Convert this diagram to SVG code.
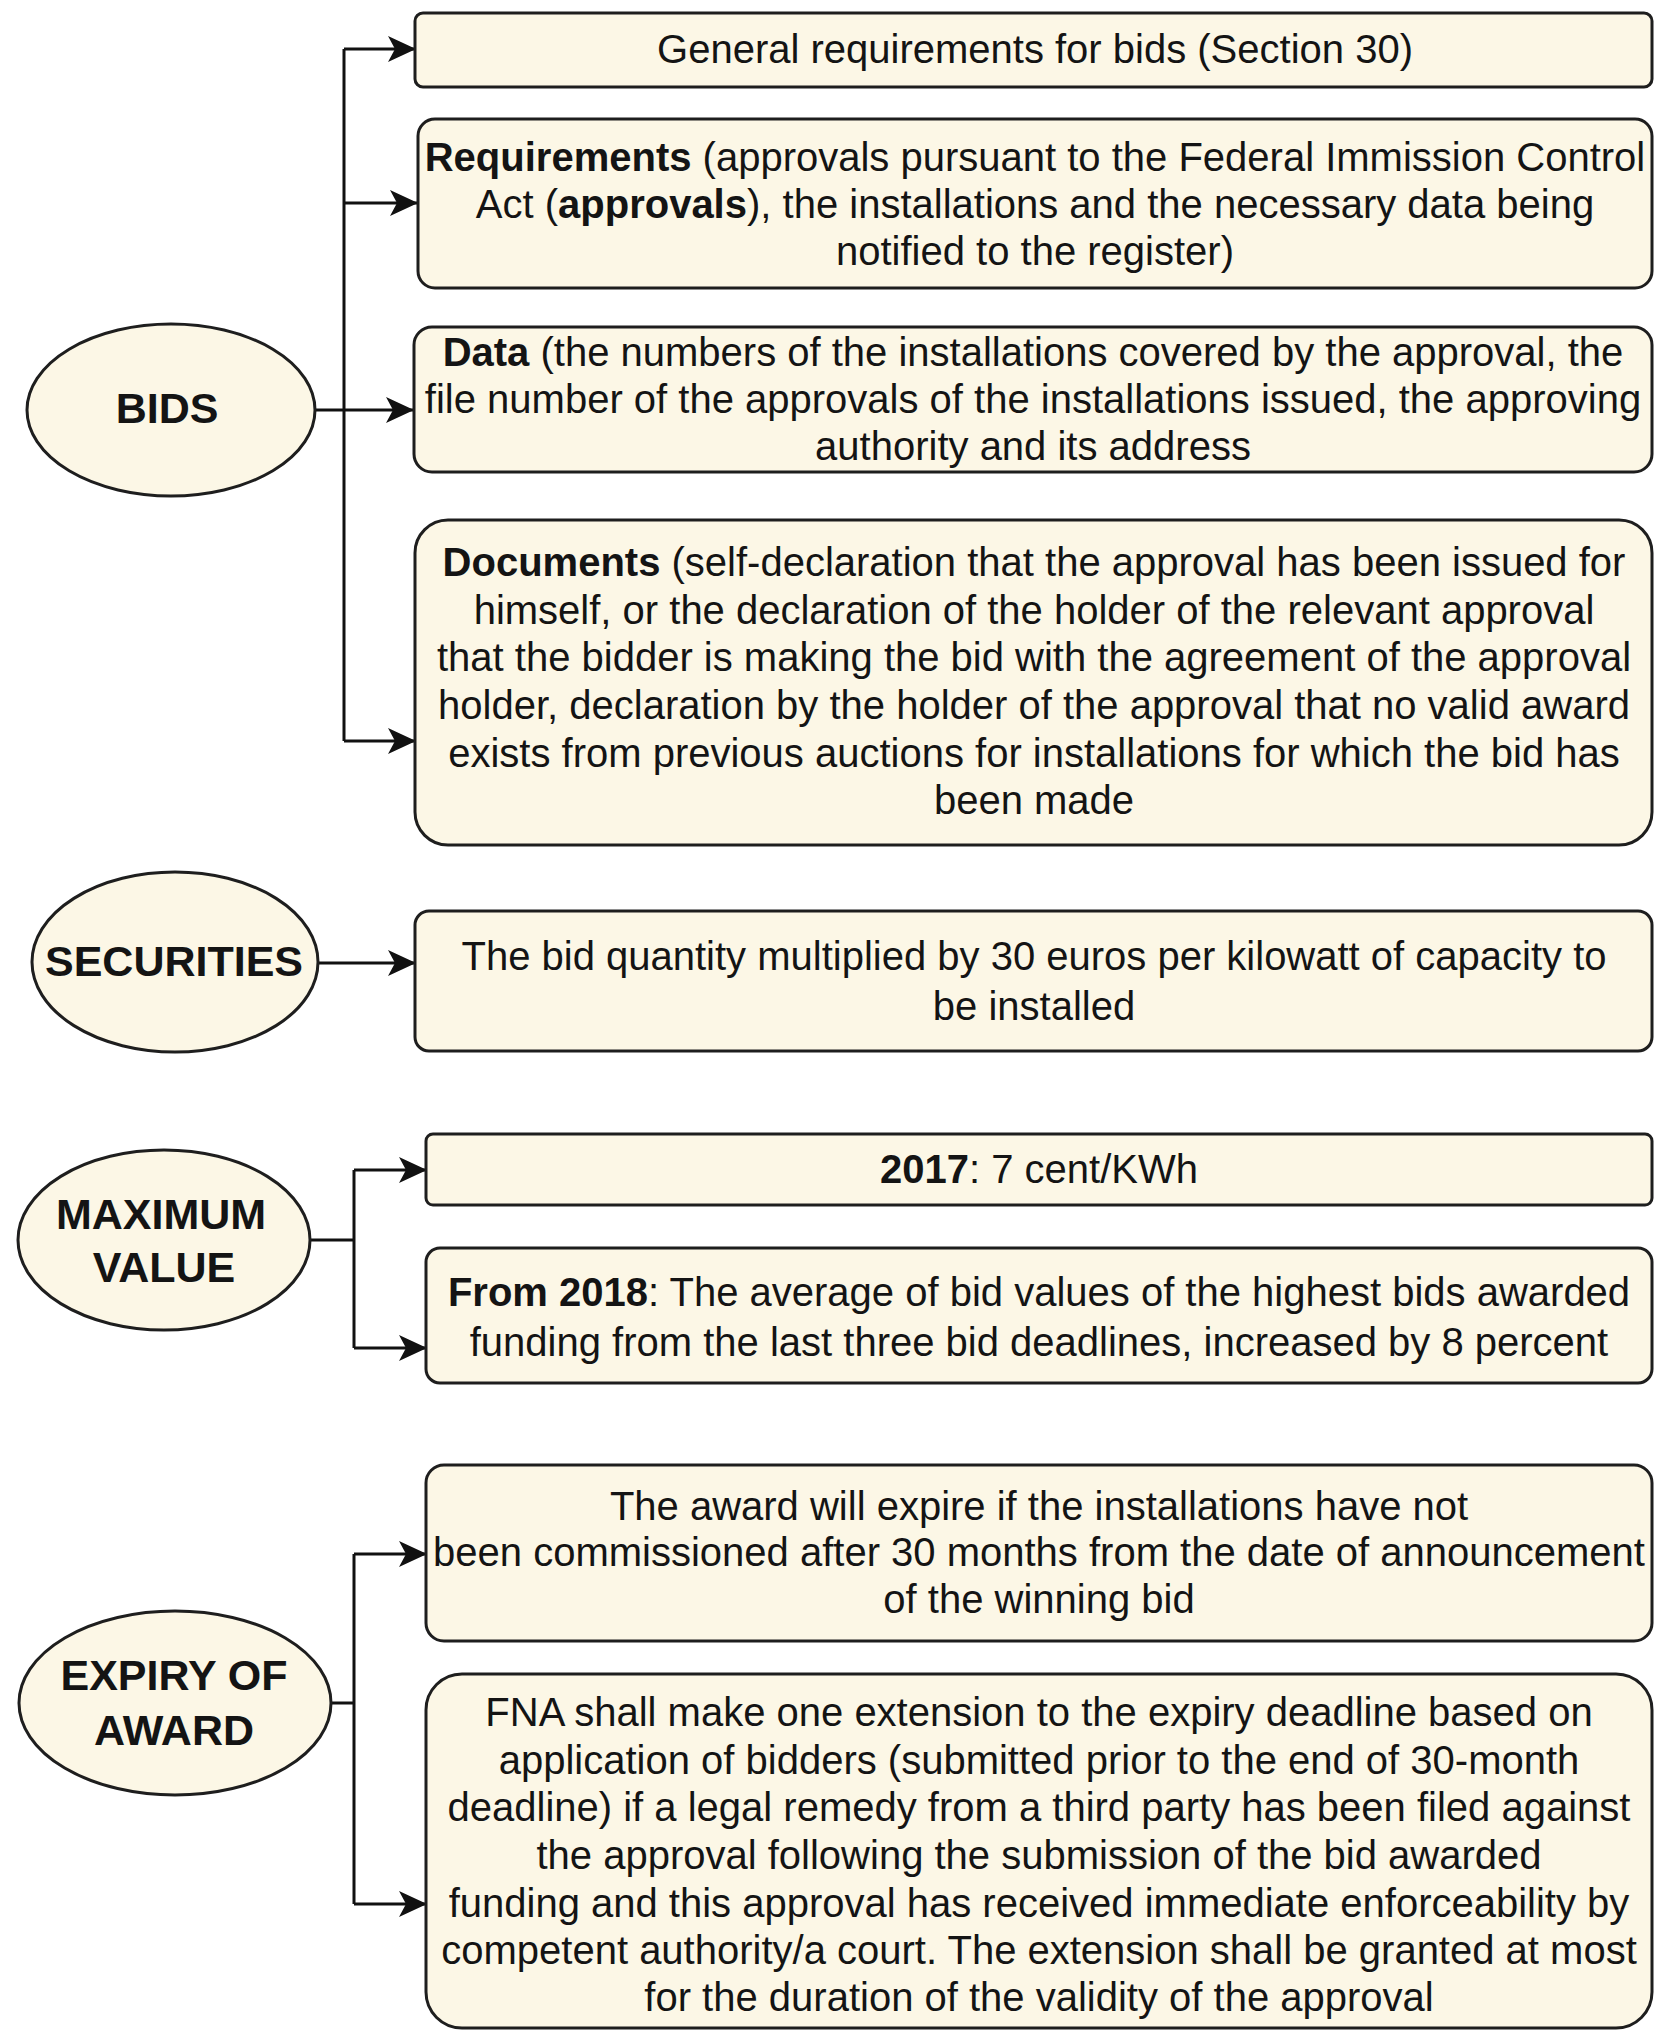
<svg xmlns="http://www.w3.org/2000/svg" width="1656" height="2031" viewBox="0 0 1656 2031">
  <style>
    .box { fill: #fcf7e6; stroke: #1e1e1e; stroke-width: 3; }
    .oval { fill: #fcf7e6; stroke: #1e1e1e; stroke-width: 3; }
    .t { font-family: "Liberation Sans", Arial, Helvetica, sans-serif; font-size: 40px; fill: #141414; text-anchor: middle; }
    .h { font-family: "Liberation Sans", Arial, Helvetica, sans-serif; font-size: 43px; font-weight: bold; fill: #141414; text-anchor: middle; }
    .b { font-weight: bold; }
    .wire { fill: none; stroke: #111; stroke-width: 3; }
  </style>
  <defs>
    <marker id="arrow" viewBox="0 0 28 26" refX="27" refY="13" markerWidth="28" markerHeight="26" markerUnits="userSpaceOnUse" orient="auto">
      <path d="M0,0 L28,13 L0,26 L7,13 Z" fill="#111"/>
    </marker>
  </defs>

  <rect width="1656" height="2031" fill="#ffffff"/>

  <!-- connectors -->
  <g id="connectors">
    <path class="wire" d="M315,410 H344"/>
    <path class="wire" d="M344,49 V741"/>
    <path class="wire" marker-end="url(#arrow)" d="M344,49 H415"/>
    <path class="wire" marker-end="url(#arrow)" d="M344,203 H417"/>
    <path class="wire" marker-end="url(#arrow)" d="M344,410 H413"/>
    <path class="wire" marker-end="url(#arrow)" d="M344,741 H415"/>

    <path class="wire" marker-end="url(#arrow)" d="M318,963 H415"/>

    <path class="wire" d="M310,1240 H354"/>
    <path class="wire" d="M354,1170 V1348"/>
    <path class="wire" marker-end="url(#arrow)" d="M354,1170 H426"/>
    <path class="wire" marker-end="url(#arrow)" d="M354,1348 H426"/>

    <path class="wire" d="M331,1703 H354"/>
    <path class="wire" d="M354,1554 V1904"/>
    <path class="wire" marker-end="url(#arrow)" d="M354,1554 H426"/>
    <path class="wire" marker-end="url(#arrow)" d="M354,1904 H426"/>
  </g>

  <!-- BIDS -->
  <g id="bids">
    <ellipse class="oval" cx="171" cy="410" rx="144" ry="86"/>
    <text class="h" x="167" y="423">BIDS</text>
  </g>
  <g id="bids-general">
    <rect class="box" x="415" y="13" width="1237" height="74" rx="8"/>
    <text class="t" x="1035" y="63">General requirements for bids (Section 30)</text>
  </g>
  <g id="bids-requirements">
    <rect class="box" x="418" y="119" width="1234" height="169" rx="17"/>
    <text class="t" x="1035" y="171"><tspan class="b">Requirements</tspan> (approvals pursuant to the Federal Immission Control</text>
    <text class="t" x="1035" y="218">Act (<tspan class="b">approvals</tspan>), the installations and the necessary data being</text>
    <text class="t" x="1035" y="265">notified to the register)</text>
  </g>
  <g id="bids-data">
    <rect class="box" x="414" y="327" width="1238" height="145" rx="18"/>
    <text class="t" x="1033" y="366"><tspan class="b">Data</tspan> (the numbers of the installations covered by the approval, the</text>
    <text class="t" x="1033" y="413">file number of the approvals of the installations issued, the approving</text>
    <text class="t" x="1033" y="460">authority and its address</text>
  </g>
  <g id="bids-documents">
    <rect class="box" x="415" y="520" width="1237" height="325" rx="33"/>
    <text class="t" x="1034" y="576"><tspan class="b">Documents</tspan> (self-declaration that the approval has been issued for</text>
    <text class="t" x="1034" y="624">himself, or the declaration of the holder of the relevant approval</text>
    <text class="t" x="1034" y="671">that the bidder is making the bid with the agreement of the approval</text>
    <text class="t" x="1034" y="719">holder, declaration by the holder of the approval that no valid award</text>
    <text class="t" x="1034" y="767">exists from previous auctions for installations for which the bid has</text>
    <text class="t" x="1034" y="814">been made</text>
  </g>

  <!-- SECURITIES -->
  <g id="securities">
    <ellipse class="oval" cx="175" cy="962" rx="143" ry="90"/>
    <text class="h" x="174" y="976">SECURITIES</text>
  </g>
  <g id="securities-amount">
    <rect class="box" x="415" y="911" width="1237" height="140" rx="14"/>
    <text class="t" x="1034" y="970">The bid quantity multiplied by 30 euros per kilowatt of capacity to</text>
    <text class="t" x="1034" y="1020">be installed</text>
  </g>

  <!-- MAXIMUM VALUE -->
  <g id="maximum-value">
    <ellipse class="oval" cx="164" cy="1240" rx="146" ry="90"/>
    <text class="h" x="161" y="1229">MAXIMUM</text>
    <text class="h" x="164" y="1282">VALUE</text>
  </g>
  <g id="max-2017">
    <rect class="box" x="426" y="1134" width="1226" height="71" rx="7"/>
    <text class="t" x="1039" y="1183"><tspan class="b">2017</tspan>: 7 cent/KWh</text>
  </g>
  <g id="max-2018">
    <rect class="box" x="426" y="1248" width="1226" height="135" rx="14"/>
    <text class="t" x="1039" y="1306"><tspan class="b">From 2018</tspan>: The average of bid values of the highest bids awarded</text>
    <text class="t" x="1039" y="1356">funding from the last three bid deadlines, increased by 8 percent</text>
  </g>

  <!-- EXPIRY OF AWARD -->
  <g id="expiry">
    <ellipse class="oval" cx="175" cy="1703" rx="156" ry="92"/>
    <text class="h" x="174" y="1690">EXPIRY OF</text>
    <text class="h" x="174" y="1745">AWARD</text>
  </g>
  <g id="expiry-rule">
    <rect class="box" x="426" y="1465" width="1226" height="176" rx="18"/>
    <text class="t" x="1039" y="1520">The award will expire if the installations have not</text>
    <text class="t" x="1039" y="1566">been commissioned after 30 months from the date of announcement</text>
    <text class="t" x="1039" y="1613">of the winning bid</text>
  </g>
  <g id="expiry-extension">
    <rect class="box" x="426" y="1674" width="1226" height="354" rx="36"/>
    <text class="t" x="1039" y="1726">FNA shall make one extension to the expiry deadline based on</text>
    <text class="t" x="1039" y="1774">application of bidders (submitted prior to the end of 30-month</text>
    <text class="t" x="1039" y="1821">deadline) if a legal remedy from a third party has been filed against</text>
    <text class="t" x="1039" y="1869">the approval following the submission of the bid awarded</text>
    <text class="t" x="1039" y="1917">funding and this approval has received immediate enforceability by</text>
    <text class="t" x="1039" y="1964">competent authority/a court. The extension shall be granted at most</text>
    <text class="t" x="1039" y="2011">for the duration of the validity of the approval</text>
  </g>
</svg>
